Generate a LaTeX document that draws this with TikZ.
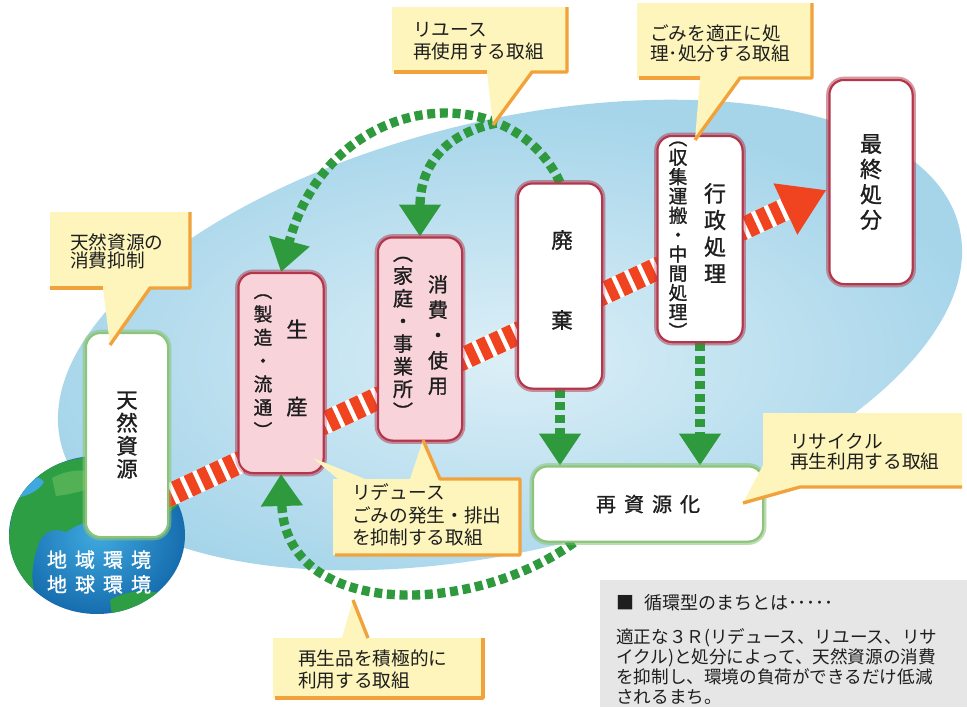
\documentclass[tikz,border=0pt]{standalone}
\usepackage{fontspec}
\newfontfamily\jp{Noto Sans CJK JP}
\newfontfamily\jpb[FakeBold=1.2]{Noto Sans CJK JP}
\usetikzlibrary{arrows.meta,calc}

\definecolor{seainner}{HTML}{DCEFF7}
\definecolor{seaouter}{HTML}{A6D5EA}
\definecolor{pinkfill}{HTML}{F9D3DA}
\definecolor{boxred}{HTML}{B3364A}
\definecolor{boxgreen}{HTML}{8CC57A}
\definecolor{flowred}{HTML}{F0431F}
\definecolor{flowgreen}{HTML}{2F9A3D}
\definecolor{notefill}{HTML}{FDF5BC}
\definecolor{noteedge}{HTML}{F1A23A}
\definecolor{panel}{HTML}{E6E6E6}
\definecolor{oceanlight}{HTML}{3FA9DF}
\definecolor{oceandark}{HTML}{166DAE}
\definecolor{land}{HTML}{2E9E45}
\definecolor{landlight}{HTML}{5DB85A}
\definecolor{ink}{HTML}{1E1E1E}

\newcommand\wgap{\kern6pt}

\begin{document}
\begin{tikzpicture}[x=0.75pt,y=-0.75pt,
  boxsize/.style 2 args={minimum width=#1*0.75pt, minimum height=#2*0.75pt},
  lab/.style 2 args={font=\jpb\fontsize{#1}{#2}\selectfont, align=center, inner sep=0pt, text=ink},
  stage/.style={rounded corners=11pt, line width=1.5pt, inner sep=0pt, align=center},
  redbox/.style={stage, draw=boxred, preaction={draw=boxred, line width=5pt, opacity=0.3}},
  greenbox/.style={stage, fill=white, draw=boxgreen, preaction={draw=boxgreen, line width=5pt, opacity=0.35}},
  note/.style 2 args={font=\jp\fontsize{#1}{#2}\selectfont, align=left, inner sep=0pt, text=ink},
  noteline/.style={noteedge, line width=2.5pt, line join=round},
  gflow/.style={flowgreen, line width=7pt, dash pattern=on 6pt off 3.5pt,
    -{Triangle[width=30pt,length=24pt]}},
]
\useasboundingbox (0,0) rectangle (967,707);
\fill[white] (0,0) rectangle (967,707);

% pale blue field behind the cycle
\begin{scope}[shift={(510,335)}, rotate=13.5]
  \shade[inner color=seainner, outer color=seaouter] (0,0) ellipse[x radius=462, y radius=215];
\end{scope}

% the earth
\begin{scope}
  \clip (97,535) ellipse[x radius=88, y radius=79];
  \shade[inner color=oceanlight, outer color=oceandark] (97,535) ellipse[x radius=88, y radius=79];
  % northern land mass
  \fill[land] (14,500) .. controls (28,472) and (62,458) .. (100,456)
    .. controls (140,456) and (172,470) .. (188,496) -- (170,512)
    .. controls (150,520) and (128,526) .. (108,522)
    .. controls (92,518) and (78,524) .. (66,532)
    .. controls (56,528) and (46,530) .. (40,540)
    .. controls (34,556) and (30,572) .. (34,590)
    .. controls (22,586) and (10,570) .. (6,556) -- cycle;
  \fill[oceanlight] (16,486) .. controls (26,476) and (38,474) .. (44,482)
    .. controls (38,492) and (26,496) .. (16,498) -- cycle;
  \fill[landlight, opacity=0.75] (52,478) .. controls (70,468) and (92,468) .. (104,478)
    .. controls (94,490) and (72,494) .. (56,496) -- cycle;
  % southern land
  \fill[land] (110,600) .. controls (128,590) and (150,588) .. (166,596)
    .. controls (160,610) and (130,618) .. (112,616) -- cycle;
\end{scope}
\node[font=\jpb\fontsize{15}{18.5}\selectfont, text=white, align=center, inner sep=0pt]
  (globe) at (99,572) {地\wgap 域\wgap 環\wgap 境\\地\wgap 球\wgap 環\wgap 境};

% stage boxes (placed first so the flows can refer to them)
\node[greenbox, boxsize={82}{204}] (tennen) at (127,435) {};
\node[redbox, fill=pinkfill, boxsize={85}{200}] (seisan) at (281,373) {};
\node[redbox, fill=pinkfill, boxsize={84}{203}] (shohi) at (420,339) {};
\node[redbox, fill=white, boxsize={84}{205}] (haiki) at (560,286) {};
\node[redbox, fill=white, boxsize={85}{206}] (gyosei) at (700,239) {};
\node[redbox, fill=white, boxsize={83}{204}] (saishu) at (871,182) {};
\node[greenbox, boxsize={230}{75}] (saishigen) at (648,504) {};

% main flow of materials: resources to final disposal
\coordinate (redstart) at ($(tennen.south east)+(-6,-40)$);
\coordinate (redend) at ($(saishu.west)+(-2,8)$);
\draw[white, line width=17pt, shorten >=33pt] (redstart) -- (redend);
\draw[flowred, line width=17pt, dash pattern=on 7pt off 3.5pt,
  -{Triangle[width=40pt,length=34pt]}] (redstart) -- (redend);

% reuse loops
\draw[gflow] (haiki.north) .. controls (510,75) and (330,90) .. (seisan.north)
  coordinate[pos=0.27] (branch);
\draw[gflow] (branch) .. controls (440,135) and (420,170) .. (shohi.north);
% recycling and return of recycled goods
\draw[gflow] (haiki.south) -- (haiki.south |- saishigen.north);
\draw[gflow] (gyosei.south) -- (gyosei.south |- saishigen.north);
\coordinate (loopstart) at ($(saishigen.south west)+(42,0)$);
\draw[gflow] (loopstart) .. controls (470,618) and (285,618) .. (seisan.south);

% redraw boxes on top of the flows
\node[greenbox, boxsize={82}{204}, lab={16}{17.25}] (tennenB) at (tennen) {天\\然\\資\\源};
\node[redbox, fill=pinkfill, boxsize={85}{200}] (seisanB) at (seisan) {};
\node[redbox, fill=pinkfill, boxsize={84}{203}] (shohiB) at (shohi) {};
\node[redbox, fill=white, boxsize={84}{205}] (haikiB) at (haiki) {};
\node[redbox, fill=white, boxsize={85}{206}] (gyoseiB) at (gyosei) {};
\node[redbox, fill=white, boxsize={83}{204}, lab={16.5}{19}] (saishuB) at (saishu) {最\\終\\処\\分};
\node[greenbox, boxsize={230}{75}, lab={15}{16}] (saishigenB) at (saishigen) {再\wgap 資\wgap 源\wgap 化};

% box labels
\node[lab={16}{18}] (seisanT) at (297,368) {生\\[40pt]産};
\node[lab={14}{17.5}] (seisanS) at (263,366) {︵\\製\\造\\・\\流\\通\\︶};
\node[lab={15}{19}] (shohiT) at (438,335) {消\\費\\・\\使\\用};
\node[lab={15}{17}] (shohiS) at (403,338) {︵\\家\\庭\\・\\事\\業\\所\\︶};
\node[lab={16}{18}] (haikiT) at (562,280) {廃\\[42pt]棄};
\node[lab={16.5}{20}] (gyoseiT) at (715,233) {行\\政\\処\\理};
\node[lab={14}{14.5}] (gyoseiS) at (678,240) {︵\\収\\集\\運\\搬\\・\\中\\間\\処\\理\\︶};

% callouts
\fill[notefill] (50,212) -- (190,212) -- (190,288) -- (150,288) -- (110,345) -- (103,288) -- (50,288) -- cycle;
\draw[noteline] (190,212) -- (190,288) -- (150,288) -- (110,345);
\draw[noteline] (103,288) -- (50,288);
\node[note={14}{13.5}, anchor=west] (noteA) at (70,251) {天然資源の\\消費抑制};

\fill[notefill] (392,7) -- (567,7) -- (567,72) -- (532,72) -- (493,125) -- (487,72) -- (392,72) -- cycle;
\draw[noteline] (567,7) -- (567,72) -- (532,72) -- (493,125);
\draw[noteline] (487,72) -- (394,72);
\node[note={14}{16.5}, anchor=west] (noteB) at (413,41) {リユース\\再使用する取組};

\fill[notefill] (637,3) -- (812,3) -- (812,78) -- (740,78) -- (695,140) -- (700,78) -- (637,78) -- cycle;
\draw[noteline] (812,3) -- (812,78) -- (740,78) -- (695,140);
\draw[noteline] (700,78) -- (639,78);
\node[note={14}{15}, anchor=west] (noteC) at (650,43) {ごみを適正に処\\理･処分する取組};

\fill[notefill] (333,479) -- (338,479) -- (313,458) -- (365,479) -- (410,479) -- (423,440) -- (440,479)
  -- (520,479) -- (520,555) -- (333,555) -- cycle;
\draw[noteline] (423,440) -- (440,479) -- (520,479) -- (520,555) -- (335,555);
\node[note={14}{17}, anchor=west] (noteD) at (352,515) {リデュース\\ごみの発生・排出\\を抑制する取組};

\fill[notefill] (273,638) -- (342,638) -- (353,600) -- (368,638) -- (483,638) -- (483,698) -- (273,698) -- cycle;
\draw[noteline] (353,600) -- (368,638);
\draw[noteline] (483,638) -- (483,698) -- (275,698);
\node[note={14}{16.5}, anchor=west] (noteE) at (298,669) {再生品を積極的に\\利用する取組};

\fill[notefill] (763,413) -- (962,413) -- (962,487) -- (800,487) -- (743,503) -- (763,465) -- cycle;
\draw[noteline] (743,503) -- (800,487) -- (962,487);
\node[note={14}{15}, anchor=west] (noteF) at (790,452) {リサイクル\\再生利用する取組};

% explanation panel
\fill[panel] (600,580) rectangle (967,707);
\node[note={13.5}{15}, anchor=west] (panelTitle) at (616,603) {■\kern8pt 循環型のまちとは･････};
\node[note={13.2}{15}, anchor=north west] (panelBody) at (616,628)
  {適正な３Ｒ(リデュース、リユース、リサ\\イクル)と処分によって、天然資源の消費\\を抑制し、環境の負荷ができるだけ低減\\されるまち。};
\end{tikzpicture}
\end{document}
